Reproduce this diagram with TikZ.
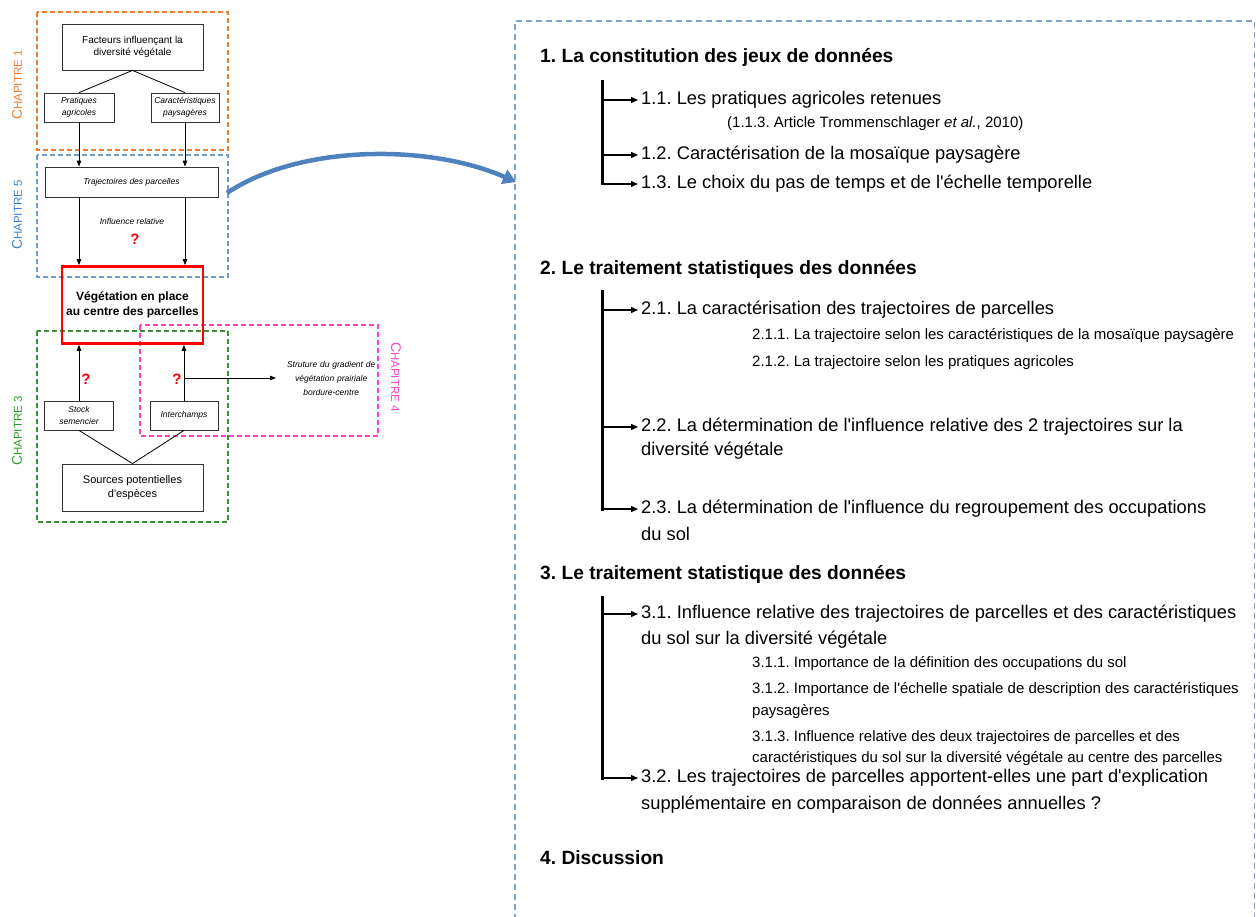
\documentclass[tikz,border=0pt]{standalone}
\usepackage{fontspec}
\setmainfont{Liberation Sans}
\usetikzlibrary{arrows.meta}
\frenchspacing
\newcommand{\ap}{\textquotesingle}
\definecolor{corange}{HTML}{ED7D31}
\definecolor{cblue}{HTML}{3F7FC8}
\definecolor{cbluedash}{HTML}{6F98CF}
\definecolor{cgreen}{HTML}{2E9A2E}
\definecolor{cgreendash}{HTML}{3A8C3A}
\definecolor{cpink}{HTML}{FF40CC}
\definecolor{ccurve}{HTML}{4F81BD}
\definecolor{cframe}{HTML}{7FA2D2}
\definecolor{cbox}{HTML}{333333}
\begin{document}
\begin{tikzpicture}[x=1pt,y=-1pt,
  box/.style={draw=cbox, line width=0.8pt, inner sep=1pt, align=center, font=\fontsize{10}{12.5}\selectfont},
  ibox/.style={box, font=\fontsize{8.5}{11.5}\selectfont\itshape},
  chapdash/.style={line width=1.2pt, dash pattern=on 5pt off 3pt},
  larr/.style={line width=1pt, -{Triangle[length=6pt,width=4.5pt]}},
  lline/.style={line width=0.8pt},
  qmark/.style={text=red, font=\fontsize{15}{15}\selectfont\bfseries, inner sep=0pt},
  chap/.style={inner sep=0pt},
  frame/.style={draw=cframe, line width=1.1pt, dash pattern=on 6pt off 4pt},
  bar/.style={line width=3pt},
  rarr/.style={line width=1.3pt, -{Triangle[length=7pt,width=6pt]}, shorten >=3pt},
  hd/.style={anchor=west, inner sep=0pt, font=\fontsize{19.2}{23}\selectfont\bfseries},
  lvtwo/.style={anchor=west, inner sep=0pt, font=\fontsize{18.3}{21}\selectfont},
  lvthree/.style={anchor=west, inner sep=0pt, font=\fontsize{15}{17}\selectfont}
]
\useasboundingbox (0,0) rectangle (1256,917);

% ---- chapter dashed frames
\draw[chapdash, corange] (37,12) rectangle (228,150);
\draw[chapdash, cbluedash] (37,155) rectangle (228,277);
\draw[chapdash, cgreendash] (37,331) rectangle (228,522);
\draw[chapdash, cpink] (140,325) rectangle (378,436);

% ---- chapter labels
\node[chap, rotate=90, text=corange] (ch1) at (17,85) {{\fontsize{14}{14}\selectfont C}{\fontsize{11.5}{12}\selectfont HAPITRE 1}};
\node[chap, rotate=90, text=cblue] (ch5) at (17,215) {{\fontsize{14}{14}\selectfont C}{\fontsize{11.5}{12}\selectfont HAPITRE 5}};
\node[chap, rotate=90, text=cgreen] (ch3) at (17,431) {{\fontsize{14}{14}\selectfont C}{\fontsize{11.5}{12}\selectfont HAPITRE 3}};
\node[chap, rotate=-90, text=cpink] (ch4) at (396,377) {{\fontsize{14}{14}\selectfont C}{\fontsize{11.5}{12}\selectfont HAPITRE 4}};

% ---- left diagram boxes
\node[box, minimum width=141pt, minimum height=46pt] (fact) at (132.5,47) {Facteurs influençant la\\diversité végétale};
\node[ibox, minimum width=70pt, minimum height=29pt] (prat) at (79,107.5) {Pratiques\\agricoles};
\node[ibox, minimum width=68pt, minimum height=29pt] (cara) at (185,107.5) {Caractéristiques\\paysagères};
\node[ibox, minimum width=173pt, minimum height=30pt] (traj) at (131.5,182) {Trajectoires des parcelles};
\node[draw=red, line width=2.6pt, minimum width=141pt, minimum height=77pt, align=center, font=\fontsize{12}{15}\selectfont\bfseries] (veg) at (132.5,305) {Végétation en place\\au centre des parcelles};
\node[ibox, fill=white, minimum width=69pt, minimum height=29pt] (stock) at (79,415.5) {Stock\\semencier};
\node[ibox, fill=white, minimum width=68pt, minimum height=29pt] (inter) at (184,415.5) {Interchamps};
\node[box, minimum width=141pt, minimum height=47pt, font=\fontsize{11}{14}\selectfont] (src) at (132.5,487.5) {Sources potentielles\\d\ap espèces};

\node[inner sep=0pt, font=\fontsize{8.5}{10}\selectfont\itshape] (infl) at (132,221) {Influence relative};
\node[qmark] (q1) at (135,239) {?};
\node[qmark] (q2) at (86,379) {?};
\node[qmark] (q3) at (177,379) {?};
\node[anchor=west, inner sep=0pt, text width=110pt, align=center, font=\fontsize{8.5}{14}\selectfont\itshape] (strut) at (276,378) {Struture du gradient de\\végétation prairiale\\bordure-centre};

% ---- left connectors
\draw[lline] (fact.south) -- (prat.north);
\draw[lline] (fact.south) -- (cara.north);
\draw[larr] (prat.south) -- (traj.north -| prat.south);
\draw[larr] (cara.south) -- (traj.north -| cara.south);
\draw[larr] (traj.south -| prat.south) -- (veg.north -| prat.south);
\draw[larr] (traj.south -| cara.south) -- (veg.north -| cara.south);
\draw[larr] (stock.north) -- (veg.south -| stock.north);
\draw[larr] (inter.north) -- (veg.south -| inter.north);
\coordinate (hstart) at (inter.north |- strut.west);
\draw[larr] (hstart) -- (strut.west);
\draw[lline] (stock.south) -- (src.north);
\draw[lline] (inter.south) -- (src.north);

% ---- right frame and curved arrow
\draw[frame] (515,930) -- (515,21) -- (1254.5,21) -- (1254.5,930);
\coordinate (cs) at (227,193);
\coordinate (ce) at (516,182);
\draw[line width=4.5pt, ccurve, -{Triangle[length=13pt,width=15pt]}] (cs) .. controls (300,144) and (430,144) .. (ce);

% ---- right text
\node[hd] (h1) at (540,57) {1. La constitution des jeux de données};
\node[lvtwo] (i11) at (641,100) {1.1. Les pratiques agricoles retenues};
\node[lvthree] (i113) at (727,124) {(1.1.3. Article Trommenschlager \textit{et al.}, 2010)};
\node[lvtwo] (i12) at (641,155) {1.2. Caractérisation de la mosaïque paysagère};
\node[lvtwo] (i13) at (641,184) {1.3. Le choix du pas de temps et de l\ap échelle temporelle};

\node[hd] (h2) at (540,269) {2. Le traitement statistiques des données};
\node[lvtwo] (i21) at (641,310) {2.1. La caractérisation des trajectoires de parcelles};
\node[lvthree] (i211) at (752,336) {2.1.1. La trajectoire selon les caractéristiques de la mosaïque paysagère};
\node[lvthree] (i212) at (752,363) {2.1.2. La trajectoire selon les pratiques agricoles};
\node[lvtwo] (i22) at (641,427) {2.2. La détermination de l\ap influence relative des 2 trajectoires sur la};
\node[lvtwo] (i22b) at (641,451) {diversité végétale};
\node[lvtwo] (i23) at (641,509) {2.3. La détermination de l\ap influence du regroupement des occupations};
\node[lvtwo] (i23b) at (641,534) {du sol};

\node[hd] (h3) at (540,574) {3. Le traitement statistique des données};
\node[lvtwo] (i31) at (641,614) {3.1. Influence relative des trajectoires de parcelles et des caractéristiques};
\node[lvtwo] (i31b) at (641,640) {du sol sur la diversité végétale};
\node[lvthree] (i311) at (752,664) {3.1.1. Importance de la définition des occupations du sol};
\node[lvthree] (i312) at (752,690) {3.1.2. Importance de l\ap échelle spatiale de description des caractéristiques};
\node[lvthree] (i312b) at (752,712) {paysagères};
\node[lvthree] (i313) at (752,738) {3.1.3. Influence relative des deux trajectoires de parcelles et des};
\node[lvthree] (i313b) at (752,759) {caractéristiques du sol sur la diversité végétale au centre des parcelles};
\node[lvtwo] (i32) at (641,778) {3.2. Les trajectoires de parcelles apportent-elles une part d\ap explication};
\node[lvtwo] (i32b) at (641,805) {supplémentaire en comparaison de données annuelles ?};

\node[hd] (h4) at (540,858) {4. Discussion};

% ---- brackets
\coordinate (b1) at (602,80);
\coordinate (b2) at (602,290);
\coordinate (b3) at (602,596);
\draw[bar] (b1) -- (b1 |- i13.west) -- ([xshift=1.5pt]b1 |- i13.west);
\draw[bar] (b2) -- (b2 |- i23.west) -- ([xshift=1.5pt]b2 |- i23.west);
\draw[bar] (b3) -- (b3 |- i32.west) -- ([xshift=1.5pt]b3 |- i32.west);
\foreach \i in {i11,i12,i13} \draw[rarr] (b1 |- \i.west) -- (\i.west);
\foreach \i in {i21,i22,i23} \draw[rarr] (b2 |- \i.west) -- (\i.west);
\foreach \i in {i31,i32} \draw[rarr] (b3 |- \i.west) -- (\i.west);
\end{tikzpicture}
\end{document}
